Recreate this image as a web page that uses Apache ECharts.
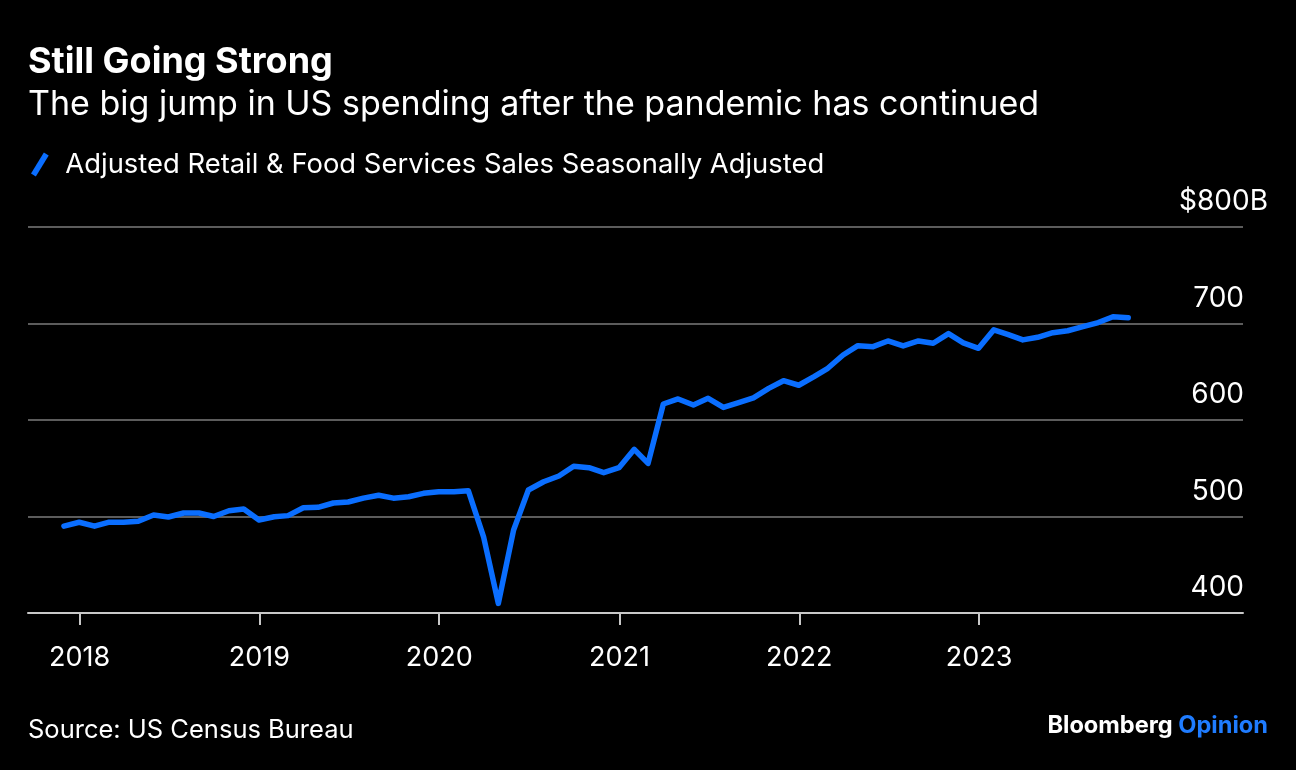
<!DOCTYPE html>
<html>
<head>
<meta charset="utf-8">
<style>
  html, body { margin: 0; padding: 0; background: #000; }
  #chart { width: 1296px; height: 770px; }
</style>
<script src="https://cdn.jsdelivr.net/npm/echarts@6/dist/echarts.min.js"></script>
</head>
<body>
<div id="chart"></div>
<script>
// ---- Data (billions USD, monthly, Nov 2017 – Oct 2023) ----
const startYear = 2017;
const startMonth = 10; // November (0-based)
const salesValues = [
  490, 494,
  490, 494, 494, 495, 501.5, 499.5, 503.6, 503.6, 500, 506, 507.8, 496.4,
  499.8, 500.9, 509, 509.5, 514, 515, 519, 522, 519, 520.5, 524, 525.7,
  525.7, 526.7, 479, 410, 486, 527.5, 536, 542, 552, 550.6, 545.4, 550.6,
  569.6, 555, 616.6, 621.8, 615.5, 622.5, 613, 618, 623, 632.8, 640.7, 636,
  645, 653.6, 667.4, 677, 676, 681.9, 676.7, 681.9, 679.5, 689.5, 680, 674.3,
  693.5, 688.8, 683, 685.7, 690.5, 692.5, 696.7, 701, 707, 706
];
const tickYears = [2018, 2019, 2020, 2021, 2022, 2023];
const yTicks = [400, 500, 600, 700, 800];
const seriesName = 'Adjusted Retail & Food Services Sales Seasonally Adjusted';

// month-end dates for each observation
const seriesData = salesValues.map((v, i) => {
  const d = new Date(startYear, startMonth + i + 1, 0);
  return [d.getTime(), v];
});
const yearStarts = tickYears.map(y => new Date(y, 0, 1).getTime());

const FONT = 'Inter';
const chart = echarts.init(document.getElementById('chart'));
chart.setOption({
  backgroundColor: '#000',
  animation: false,
  title: [
    { text: 'Still Going Strong', left: 28, top: 44, padding: 0,
      textStyle: { color: '#fff', fontSize: 36, fontWeight: 'bold', fontFamily: FONT } },
    { text: 'The big jump in US spending after the pandemic has continued', left: 28, top: 88, padding: 0,
      textStyle: { color: '#fff', fontSize: 34, fontWeight: 'normal', fontFamily: FONT } },
    { text: 'Source: US Census Bureau', left: 28, top: 717, padding: 0,
      textStyle: { color: '#fff', fontSize: 25.5, fontWeight: 'normal', fontFamily: FONT } },
    { text: '{b|Bloomberg}{o| Opinion}', right: 28, top: 714, padding: 0,
      textStyle: { rich: {
        b: { color: '#fff', fontSize: 23.6, fontWeight: 'bold', fontFamily: FONT },
        o: { color: '#1f7cff', fontSize: 23.6, fontWeight: 'bold', fontFamily: FONT }
      } } }
  ],
  legend: {
    left: 31, top: 151, padding: 0,
    icon: 'path://M0,20.5 L12.5,0 L17.2,2.8 L4.7,23.3 Z',
    itemWidth: 19, itemHeight: 24,
    textStyle: { color: '#fff', fontSize: 27.4, fontFamily: FONT, padding: [0, 0, 0, 11] },
    data: [seriesName]
  },
  grid: { left: 28, right: 53, top: 227, bottom: 157 },
  xAxis: {
    type: 'value',
    min: new Date(2017, 8, 18).getTime(),
    max: new Date(2024, 5, 20).getTime(),
    axisLine: { show: true, lineStyle: { color: '#c8c8c8', width: 2 } },
    axisTick: { show: true, length: 12, lineStyle: { color: '#c8c8c8', width: 2 }, customValues: yearStarts },
    axisLabel: {
      customValues: yearStarts,
      formatter: v => String(new Date(v).getFullYear()),
      color: '#fff', fontSize: 27, fontFamily: FONT, margin: 31
    },
    splitLine: { show: false }
  },
  yAxis: {
    type: 'value', position: 'right',
    min: 400, max: 800, interval: 100,
    axisLine: { show: false }, axisTick: { show: false },
    splitLine: { show: true, lineStyle: { color: '#5c5c5c', width: 2 } },
    axisLabel: {
      align: 'right', verticalAlign: 'bottom', margin: 25, padding: [0, 0, 11, 0],
      color: '#fff', fontSize: 28, fontFamily: FONT,
      formatter: v => v === 800 ? '$800B' : v + '{h|B}',
      rich: { h: { color: 'rgba(0,0,0,0)', fontSize: 28, fontFamily: FONT, width: 24 } }
    }
  },
  series: [{
    name: seriesName, type: 'line', data: seriesData,
    showSymbol: false, symbol: 'none',
    itemStyle: { color: '#0a6eff' },
    lineStyle: { color: '#0a6eff', width: 5.5, cap: 'round', join: 'round' }
  }]
});
</script>
</body>
</html>
